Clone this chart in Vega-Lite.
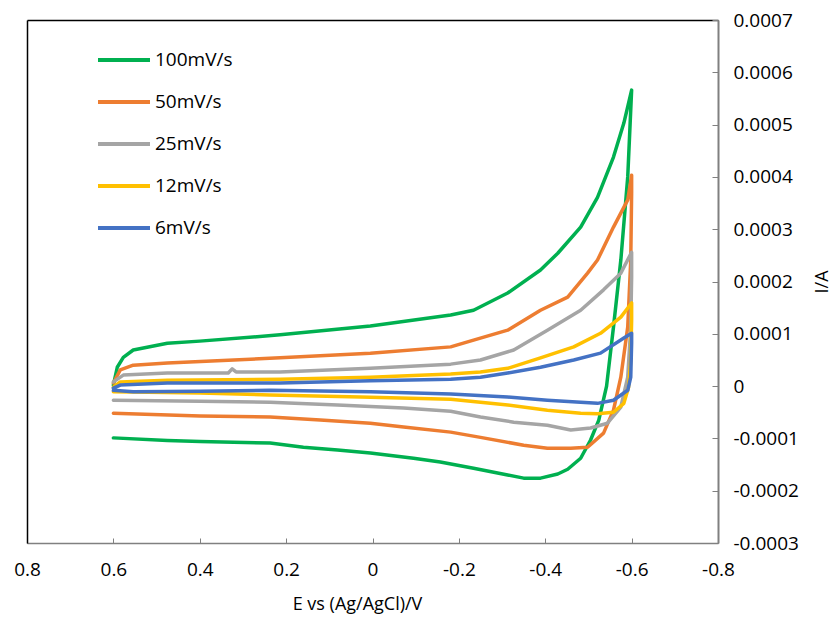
{
  "$schema": "https://vega.github.io/schema/vega-lite/v6.json",
  "width": 691,
  "height": 523,
  "autosize": {"type": "none"},
  "padding": {"left": 27, "top": 20, "right": 120, "bottom": 81},
  "background": "#ffffff",
  "config": {
    "view": {"stroke": null},
    "font": "Open Sans",
    "axis": {"grid": false, "labelColor": "#000000", "titleColor": "#000000", "titleFontWeight": "normal"}
  },
  "data": {
    "values": [
      {"s":"100mV/s","k":1,"E":0.6,"I":0.02e-4},
      {"s":"100mV/s","k":2,"E":0.591,"I":0.36e-4},
      {"s":"100mV/s","k":3,"E":0.577,"I":0.55e-4},
      {"s":"100mV/s","k":4,"E":0.554,"I":0.69e-4},
      {"s":"100mV/s","k":5,"E":0.475,"I":0.82e-4},
      {"s":"100mV/s","k":6,"E":0.4,"I":0.86e-4},
      {"s":"100mV/s","k":7,"E":0.214,"I":0.98e-4},
      {"s":"100mV/s","k":8,"E":0.005,"I":1.15e-4},
      {"s":"100mV/s","k":9,"E":-0.181,"I":1.36e-4},
      {"s":"100mV/s","k":10,"E":-0.234,"I":1.45e-4},
      {"s":"100mV/s","k":11,"E":-0.313,"I":1.78e-4},
      {"s":"100mV/s","k":12,"E":-0.389,"I":2.22e-4},
      {"s":"100mV/s","k":13,"E":-0.429,"I":2.54e-4},
      {"s":"100mV/s","k":14,"E":-0.482,"I":3.04e-4},
      {"s":"100mV/s","k":15,"E":-0.521,"I":3.61e-4},
      {"s":"100mV/s","k":16,"E":-0.558,"I":4.38e-4},
      {"s":"100mV/s","k":17,"E":-0.582,"I":5.03e-4},
      {"s":"100mV/s","k":18,"E":-0.6,"I":5.66e-4},
      {"s":"100mV/s","k":19,"E":-0.591,"I":4.0e-4},
      {"s":"100mV/s","k":20,"E":-0.575,"I":2.41e-4},
      {"s":"100mV/s","k":21,"E":-0.558,"I":1.13e-4},
      {"s":"100mV/s","k":22,"E":-0.542,"I":0},
      {"s":"100mV/s","k":23,"E":-0.524,"I":-0.65e-4},
      {"s":"100mV/s","k":24,"E":-0.505,"I":-1.03e-4},
      {"s":"100mV/s","k":25,"E":-0.482,"I":-1.38e-4},
      {"s":"100mV/s","k":26,"E":-0.452,"I":-1.59e-4},
      {"s":"100mV/s","k":27,"E":-0.429,"I":-1.68e-4},
      {"s":"100mV/s","k":28,"E":-0.389,"I":-1.76e-4},
      {"s":"100mV/s","k":29,"E":-0.35,"I":-1.76e-4},
      {"s":"100mV/s","k":30,"E":-0.313,"I":-1.70e-4},
      {"s":"100mV/s","k":31,"E":-0.234,"I":-1.57e-4},
      {"s":"100mV/s","k":32,"E":-0.157,"I":-1.45e-4},
      {"s":"100mV/s","k":33,"E":-0.095,"I":-1.38e-4},
      {"s":"100mV/s","k":34,"E":0.005,"I":-1.28e-4},
      {"s":"100mV/s","k":35,"E":0.081,"I":-1.22e-4},
      {"s":"100mV/s","k":36,"E":0.16,"I":-1.17e-4},
      {"s":"100mV/s","k":37,"E":0.237,"I":-1.09e-4},
      {"s":"100mV/s","k":38,"E":0.399,"I":-1.06e-4},
      {"s":"100mV/s","k":39,"E":0.475,"I":-1.04e-4},
      {"s":"100mV/s","k":40,"E":0.6,"I":-0.99e-4},

      {"s":"50mV/s","k":1,"E":0.6,"I":0.06e-4},
      {"s":"50mV/s","k":2,"E":0.584,"I":0.31e-4},
      {"s":"50mV/s","k":3,"E":0.554,"I":0.40e-4},
      {"s":"50mV/s","k":4,"E":0.475,"I":0.44e-4},
      {"s":"50mV/s","k":5,"E":0.214,"I":0.54e-4},
      {"s":"50mV/s","k":6,"E":0.005,"I":0.63e-4},
      {"s":"50mV/s","k":7,"E":-0.181,"I":0.75e-4},
      {"s":"50mV/s","k":8,"E":-0.234,"I":0.88e-4},
      {"s":"50mV/s","k":9,"E":-0.313,"I":1.07e-4},
      {"s":"50mV/s","k":10,"E":-0.389,"I":1.45e-4},
      {"s":"50mV/s","k":11,"E":-0.452,"I":1.70e-4},
      {"s":"50mV/s","k":12,"E":-0.498,"I":2.16e-4},
      {"s":"50mV/s","k":13,"E":-0.521,"I":2.41e-4},
      {"s":"50mV/s","k":14,"E":-0.558,"I":3.04e-4},
      {"s":"50mV/s","k":15,"E":-0.591,"I":3.56e-4},
      {"s":"50mV/s","k":16,"E":-0.6,"I":4.03e-4},
      {"s":"50mV/s","k":17,"E":-0.6,"I":3.69e-4},
      {"s":"50mV/s","k":18,"E":-0.598,"I":2.41e-4},
      {"s":"50mV/s","k":19,"E":-0.591,"I":1.13e-4},
      {"s":"50mV/s","k":20,"E":-0.575,"I":0.17e-4},
      {"s":"50mV/s","k":21,"E":-0.558,"I":-0.46e-4},
      {"s":"50mV/s","k":22,"E":-0.535,"I":-0.90e-4},
      {"s":"50mV/s","k":23,"E":-0.498,"I":-1.17e-4},
      {"s":"50mV/s","k":24,"E":-0.459,"I":-1.19e-4},
      {"s":"50mV/s","k":25,"E":-0.405,"I":-1.19e-4},
      {"s":"50mV/s","k":26,"E":-0.35,"I":-1.13e-4},
      {"s":"50mV/s","k":27,"E":-0.25,"I":-0.98e-4},
      {"s":"50mV/s","k":28,"E":-0.181,"I":-0.88e-4},
      {"s":"50mV/s","k":29,"E":-0.072,"I":-0.78e-4},
      {"s":"50mV/s","k":30,"E":0.005,"I":-0.71e-4},
      {"s":"50mV/s","k":31,"E":0.121,"I":-0.65e-4},
      {"s":"50mV/s","k":32,"E":0.237,"I":-0.59e-4},
      {"s":"50mV/s","k":33,"E":0.399,"I":-0.57e-4},
      {"s":"50mV/s","k":34,"E":0.6,"I":-0.52e-4},

      {"s":"25mV/s","k":1,"E":0.6,"I":0.08e-4},
      {"s":"25mV/s","k":2,"E":0.577,"I":0.21e-4},
      {"s":"25mV/s","k":3,"E":0.475,"I":0.25e-4},
      {"s":"25mV/s","k":4,"E":0.334,"I":0.25e-4},
      {"s":"25mV/s","k":5,"E":0.325,"I":0.33e-4},
      {"s":"25mV/s","k":6,"E":0.316,"I":0.27e-4},
      {"s":"25mV/s","k":7,"E":0.214,"I":0.27e-4},
      {"s":"25mV/s","k":8,"E":0.005,"I":0.34e-4},
      {"s":"25mV/s","k":9,"E":-0.181,"I":0.42e-4},
      {"s":"25mV/s","k":10,"E":-0.25,"I":0.50e-4},
      {"s":"25mV/s","k":11,"E":-0.327,"I":0.69e-4},
      {"s":"25mV/s","k":12,"E":-0.405,"I":1.07e-4},
      {"s":"25mV/s","k":13,"E":-0.482,"I":1.45e-4},
      {"s":"25mV/s","k":14,"E":-0.535,"I":1.84e-4},
      {"s":"25mV/s","k":15,"E":-0.575,"I":2.16e-4},
      {"s":"25mV/s","k":16,"E":-0.6,"I":2.56e-4},
      {"s":"25mV/s","k":17,"E":-0.6,"I":2.08e-4},
      {"s":"25mV/s","k":18,"E":-0.598,"I":1.13e-4},
      {"s":"25mV/s","k":19,"E":-0.591,"I":0.17e-4},
      {"s":"25mV/s","k":20,"E":-0.575,"I":-0.40e-4},
      {"s":"25mV/s","k":21,"E":-0.544,"I":-0.71e-4},
      {"s":"25mV/s","k":22,"E":-0.505,"I":-0.80e-4},
      {"s":"25mV/s","k":23,"E":-0.459,"I":-0.84e-4},
      {"s":"25mV/s","k":24,"E":-0.405,"I":-0.75e-4},
      {"s":"25mV/s","k":25,"E":-0.327,"I":-0.69e-4},
      {"s":"25mV/s","k":26,"E":-0.25,"I":-0.59e-4},
      {"s":"25mV/s","k":27,"E":-0.181,"I":-0.48e-4},
      {"s":"25mV/s","k":28,"E":-0.072,"I":-0.42e-4},
      {"s":"25mV/s","k":29,"E":0.081,"I":-0.36e-4},
      {"s":"25mV/s","k":30,"E":0.237,"I":-0.31e-4},
      {"s":"25mV/s","k":31,"E":0.399,"I":-0.29e-4},
      {"s":"25mV/s","k":32,"E":0.6,"I":-0.27e-4},

      {"s":"12mV/s","k":1,"E":0.6,"I":-0.02e-4},
      {"s":"12mV/s","k":2,"E":0.584,"I":0.08e-4},
      {"s":"12mV/s","k":3,"E":0.475,"I":0.11e-4},
      {"s":"12mV/s","k":4,"E":0.214,"I":0.13e-4},
      {"s":"12mV/s","k":5,"E":0.005,"I":0.17e-4},
      {"s":"12mV/s","k":6,"E":-0.181,"I":0.23e-4},
      {"s":"12mV/s","k":7,"E":-0.25,"I":0.27e-4},
      {"s":"12mV/s","k":8,"E":-0.313,"I":0.34e-4},
      {"s":"12mV/s","k":9,"E":-0.389,"I":0.54e-4},
      {"s":"12mV/s","k":10,"E":-0.466,"I":0.75e-4},
      {"s":"12mV/s","k":11,"E":-0.528,"I":1.01e-4},
      {"s":"12mV/s","k":12,"E":-0.575,"I":1.32e-4},
      {"s":"12mV/s","k":13,"E":-0.6,"I":1.59e-4},
      {"s":"12mV/s","k":14,"E":-0.6,"I":1.26e-4},
      {"s":"12mV/s","k":15,"E":-0.598,"I":0.50e-4},
      {"s":"12mV/s","k":16,"E":-0.593,"I":-0.02e-4},
      {"s":"12mV/s","k":17,"E":-0.582,"I":-0.33e-4},
      {"s":"12mV/s","k":18,"E":-0.558,"I":-0.50e-4},
      {"s":"12mV/s","k":19,"E":-0.521,"I":-0.53e-4},
      {"s":"12mV/s","k":20,"E":-0.482,"I":-0.52e-4},
      {"s":"12mV/s","k":21,"E":-0.405,"I":-0.46e-4},
      {"s":"12mV/s","k":22,"E":-0.313,"I":-0.36e-4},
      {"s":"12mV/s","k":23,"E":-0.25,"I":-0.31e-4},
      {"s":"12mV/s","k":24,"E":-0.181,"I":-0.25e-4},
      {"s":"12mV/s","k":25,"E":0.028,"I":-0.21e-4},
      {"s":"12mV/s","k":26,"E":0.237,"I":-0.17e-4},
      {"s":"12mV/s","k":27,"E":0.399,"I":-0.13e-4},
      {"s":"12mV/s","k":28,"E":0.6,"I":-0.11e-4},

      {"s":"6mV/s","k":1,"E":0.6,"I":-0.04e-4},
      {"s":"6mV/s","k":2,"E":0.584,"I":0.02e-4},
      {"s":"6mV/s","k":3,"E":0.475,"I":0.06e-4},
      {"s":"6mV/s","k":4,"E":0.214,"I":0.06e-4},
      {"s":"6mV/s","k":5,"E":0.005,"I":0.10e-4},
      {"s":"6mV/s","k":6,"E":-0.181,"I":0.13e-4},
      {"s":"6mV/s","k":7,"E":-0.25,"I":0.17e-4},
      {"s":"6mV/s","k":8,"E":-0.313,"I":0.25e-4},
      {"s":"6mV/s","k":9,"E":-0.389,"I":0.36e-4},
      {"s":"6mV/s","k":10,"E":-0.466,"I":0.50e-4},
      {"s":"6mV/s","k":11,"E":-0.528,"I":0.63e-4},
      {"s":"6mV/s","k":12,"E":-0.582,"I":0.92e-4},
      {"s":"6mV/s","k":13,"E":-0.6,"I":1.01e-4},
      {"s":"6mV/s","k":14,"E":-0.6,"I":0.82e-4},
      {"s":"6mV/s","k":15,"E":-0.598,"I":0.17e-4},
      {"s":"6mV/s","k":16,"E":-0.591,"I":-0.08e-4},
      {"s":"6mV/s","k":17,"E":-0.558,"I":-0.27e-4},
      {"s":"6mV/s","k":18,"E":-0.521,"I":-0.33e-4},
      {"s":"6mV/s","k":19,"E":-0.482,"I":-0.31e-4},
      {"s":"6mV/s","k":20,"E":-0.405,"I":-0.27e-4},
      {"s":"6mV/s","k":21,"E":-0.313,"I":-0.21e-4},
      {"s":"6mV/s","k":22,"E":-0.181,"I":-0.15e-4},
      {"s":"6mV/s","k":23,"E":0.005,"I":-0.11e-4},
      {"s":"6mV/s","k":24,"E":0.237,"I":-0.08e-4},
      {"s":"6mV/s","k":25,"E":0.399,"I":-0.10e-4},
      {"s":"6mV/s","k":26,"E":0.554,"I":-0.11e-4},
      {"s":"6mV/s","k":27,"E":0.6,"I":-0.08e-4}
    ]
  },
  "layer": [
    {
      "mark": {"type": "point", "opacity": 0},
      "encoding": {
        "x": {
          "field": "E", "type": "quantitative",
          "scale": {"domain": [-0.8, 0.8], "reverse": true, "nice": false, "zero": false},
          "axis": {"orient": "top", "labels": false, "ticks": false, "title": null, "domainColor": "#000000", "domainWidth": 1.5}
        },
        "y": {
          "field": "I", "type": "quantitative",
          "scale": {"domain": [-0.0003, 0.0007], "nice": false, "zero": false},
          "axis": {"orient": "left", "labels": false, "ticks": false, "title": null, "domainColor": "#000000", "domainWidth": 1.5}
        }
      }
    },
    {
      "mark": {"type": "line", "strokeWidth": 3.5, "strokeCap": "round", "strokeJoin": "round"},
      "encoding": {
        "x": {
          "field": "E", "type": "quantitative",
          "axis": {
            "orient": "bottom",
            "values": [0.8, 0.6, 0.4, 0.2, 0, -0.2, -0.4, -0.6, -0.8],
            "labelExpr": "datum.value == 0 ? '0' : (datum.value < 0 ? '-' : '') + format(abs(datum.value), '.1f')",
            "title": "E vs (Ag/AgCl)/V",
            "titleX": 330,
            "domainColor": "#808080", "domainWidth": 1.5,
            "tickColor": "#808080", "tickSize": -5, "tickWidth": 1,
            "labelFontSize": 19, "labelPadding": 22, "labelFlush": false,
            "titleFontSize": 18, "titlePadding": 16
          }
        },
        "y": {
          "field": "I", "type": "quantitative",
          "axis": {
            "orient": "right",
            "values": [-0.0003, -0.0002, -0.0001, 0, 0.0001, 0.0002, 0.0003, 0.0004, 0.0005, 0.0006, 0.0007],
            "labelExpr": "abs(datum.value) < 1e-9 ? '0' : (datum.value < 0 ? '-' : '') + format(abs(datum.value), '.4f')",
            "title": "I/A",
            "titleAngle": -90,
            "titleX": 104,
            "titleBaseline": "middle",
            "titleAlign": "center",
            "domainColor": "#808080", "domainWidth": 2,
            "tickColor": "#808080", "tickSize": -6, "tickWidth": 1,
            "labelFontSize": 19, "labelPadding": 21, "labelFlush": false,
            "titleFontSize": 18
          }
        },
        "color": {
          "field": "s", "type": "nominal",
          "scale": {
            "domain": ["100mV/s", "50mV/s", "25mV/s", "12mV/s", "6mV/s"],
            "range": ["#00B050", "#ED7D31", "#A5A5A5", "#FFC000", "#4472C4"]
          },
          "legend": {
            "orient": "none", "legendX": 69, "legendY": 12,
            "title": null,
            "symbolType": "stroke", "symbolSize": 2704, "symbolStrokeWidth": 4,
            "labelFontSize": 19, "labelOffset": 3, "rowPadding": 4,
            "labelColor": "#000000"
          }
        },
        "order": {"field": "k", "type": "quantitative"}
      }
    }
  ],
  "resolve": {"axis": {"x": "independent", "y": "independent"}}
}
